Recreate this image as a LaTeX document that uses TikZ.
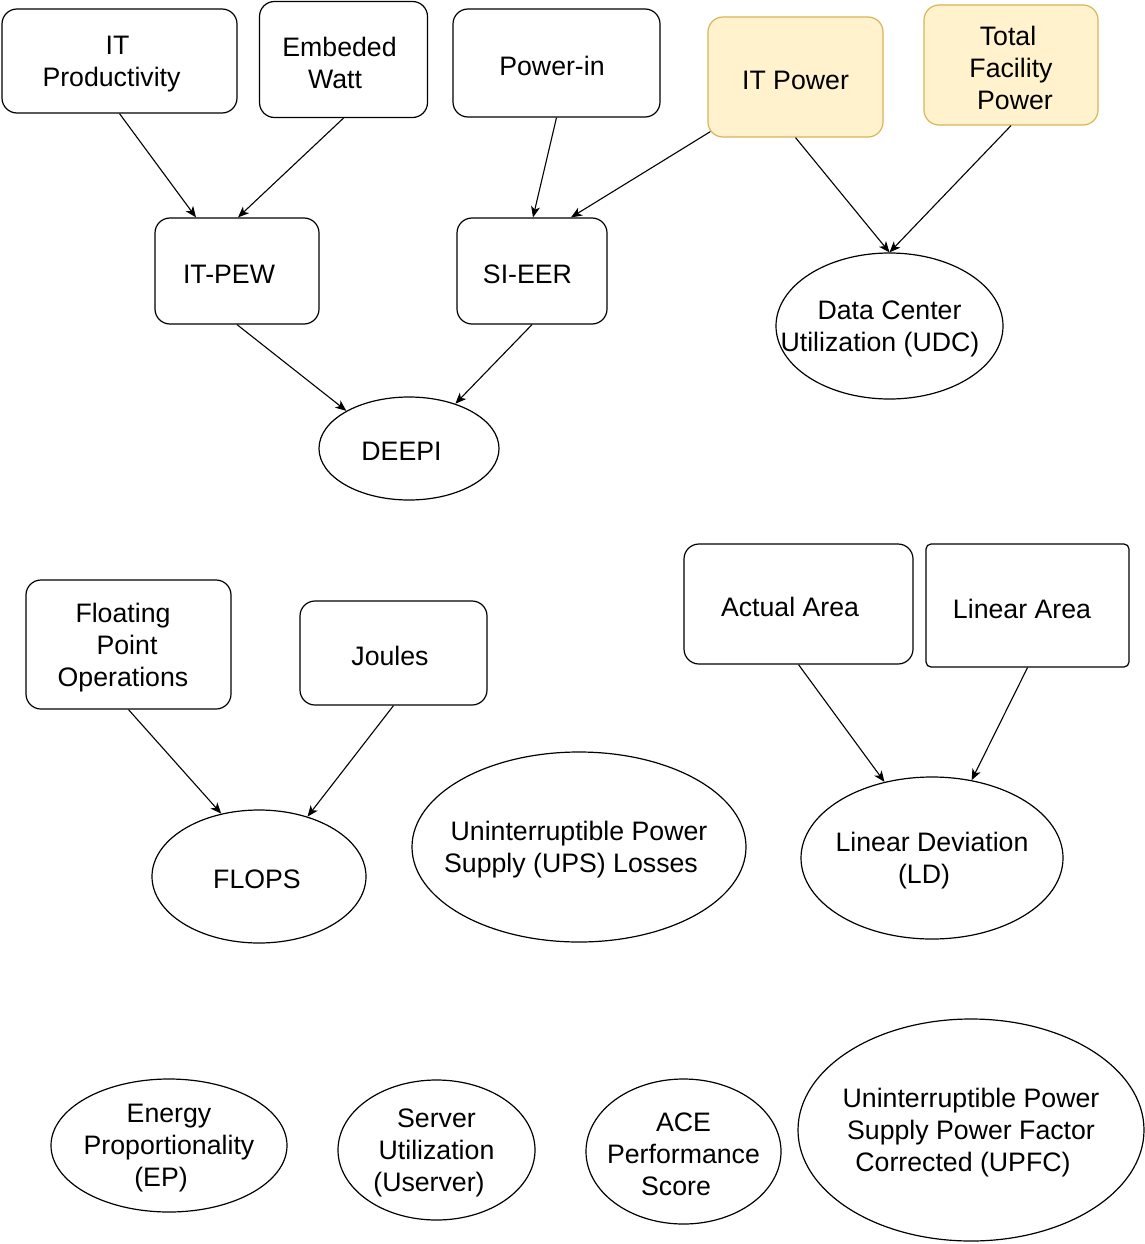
\documentclass[tikz,border=0pt]{standalone}
\usepackage{fontspec}
\setmainfont{Liberation Sans}
\usetikzlibrary{shapes.geometric,arrows.meta}
\definecolor{yfill}{HTML}{FFF2CC}
\definecolor{ystroke}{HTML}{D6B656}
% one centred line of zero width, optionally padded on the right,
% set a little below its nominal baseline
\newcommand\txtline[2][0pt]{\makebox[0pt]{\raisebox{-3pt}[\height][\depth]{#2\hspace*{#1}}}}
\begin{document}
\begin{tikzpicture}[x=1pt,y=-1pt,
  every node/.style={font=\fontsize{26.7}{32}\selectfont, inner sep=0pt, align=center},
  box/.style={draw, rectangle, rounded corners=15pt, line width=1.2pt},
  ybox/.style={box, fill=yfill, draw=ystroke},
  oval/.style={draw, ellipse, line width=1.2pt},
  arr/.style={-{Stealth[length=11pt,width=9pt,inset=3pt]}, line width=1.1pt}]
\fill[white] (0,0) rectangle (1145,1244);
\useasboundingbox (0,0) rectangle (1145,1244);

% top row
\node[box, minimum width=235pt, minimum height=104pt] (itprod) at (119.5,61)
  {\txtline[4pt]{IT}\\\txtline[16pt]{Productivity}};
\node[box, minimum width=168pt, minimum height=116pt] (embed) at (343.5,59.5)
  {\txtline[8pt]{Embeded}\\\txtline[17pt]{Watt}};
\node[box, minimum width=207pt, minimum height=108pt] (powerin) at (556.5,63)
  {\txtline[9pt]{Power-in}};
\node[ybox, minimum width=175pt, minimum height=120pt] (itpower) at (795.5,77)
  {\txtline{IT Power}};
\node[ybox, minimum width=174pt, minimum height=120pt] (total) at (1011,65)
  {\txtline[6pt]{Total}\\\txtline{Facility}\\\txtline{\hspace*{8pt}Power}};

% second row
\node[box, minimum width=164pt, minimum height=106pt] (itpew) at (237,271)
  {\txtline[16pt]{IT-PEW}};
\node[box, minimum width=150pt, minimum height=106pt] (sieer) at (532,271)
  {\txtline[9pt]{SI-EER}};
\node[oval, minimum width=227pt, minimum height=146pt] (udc) at (889.5,326)
  {\txtline{Data Center}\\\txtline[19pt]{Utilization (UDC)}};
\node[oval, minimum width=180pt, minimum height=103pt] (deepi) at (409,448.5)
  {\txtline[15pt]{DEEPI}};

% middle group
\node[box, minimum width=205pt, minimum height=129pt] (flo) at (128.5,644.5)
  {\txtline[11pt]{Floating}\\\txtline[3pt]{Point}\\\txtline[11pt]{Operations}};
\node[box, minimum width=187pt, minimum height=104pt] (joules) at (393.5,653)
  {\txtline[7pt]{Joules}};
\node[box, minimum width=229pt, minimum height=120pt] (actual) at (798.5,604)
  {\txtline[17pt]{Actual Area}};
\node[box, rounded corners=5pt, minimum width=203pt, minimum height=123pt] (linear) at (1027.5,605.5)
  {\txtline[11pt]{Linear Area}};
\node[oval, minimum width=214pt, minimum height=133pt] (flops) at (259,876.5)
  {\txtline[4pt]{FLOPS}};
\node[oval, minimum width=334pt, minimum height=190pt] (ups) at (579,847)
  {\txtline{Uninterruptible Power}\\\txtline[16pt]{Supply (UPS) Losses}};
\node[oval, minimum width=262pt, minimum height=162pt] (ld) at (932,858)
  {\txtline{Linear Deviation}\\\txtline[16pt]{(LD)}};

% bottom row
\node[oval, minimum width=236pt, minimum height=133pt] (ep) at (169,1145.5)
  {\txtline{Energy}\\\txtline{Proportionality}\\\txtline[16pt]{(EP)}};
\node[oval, minimum width=197pt, minimum height=140pt] (serv) at (436.5,1150)
  {\txtline{Server}\\\txtline{Utilization}\\\txtline[15pt]{(Userver)}};
\node[oval, minimum width=195pt, minimum height=145pt] (ace) at (683.5,1151.5)
  {\txtline{ACE}\\\txtline{Performance}\\\txtline[15pt]{Score}};
\node[oval, minimum width=346pt, minimum height=222pt] (upfc) at (971,1130)
  {\txtline{Uninterruptible Power}\\\txtline{Supply Power Factor}\\\txtline[16pt]{Corrected (UPFC)}};

% connectors
\draw[arr] (itprod.south) -- ([xshift=-41pt]itpew.north);
\draw[arr] (embed.south) -- ([xshift=1pt]itpew.north);
\draw[arr] (powerin.south) -- ([xshift=1pt]sieer.north);
\draw[arr] ([xshift=3pt,yshift=6pt]itpower.south west) -- ([xshift=39pt]sieer.north);
\draw[arr] (itpower.south) -- (udc.north);
\draw[arr] (total.south) -- (udc.north);
\draw[arr] (itpew.south) -- (deepi.149.6);
\draw[arr] (sieer.south) -- (deepi.44.7);
\draw[arr] (flo.south) -- (flops.121.3);
\draw[arr] (joules.south) -- (flops.51.1);
\draw[arr] (actual.south) -- (ld.122);
\draw[arr] (linear.south) -- (ld.63);
\end{tikzpicture}
\end{document}
